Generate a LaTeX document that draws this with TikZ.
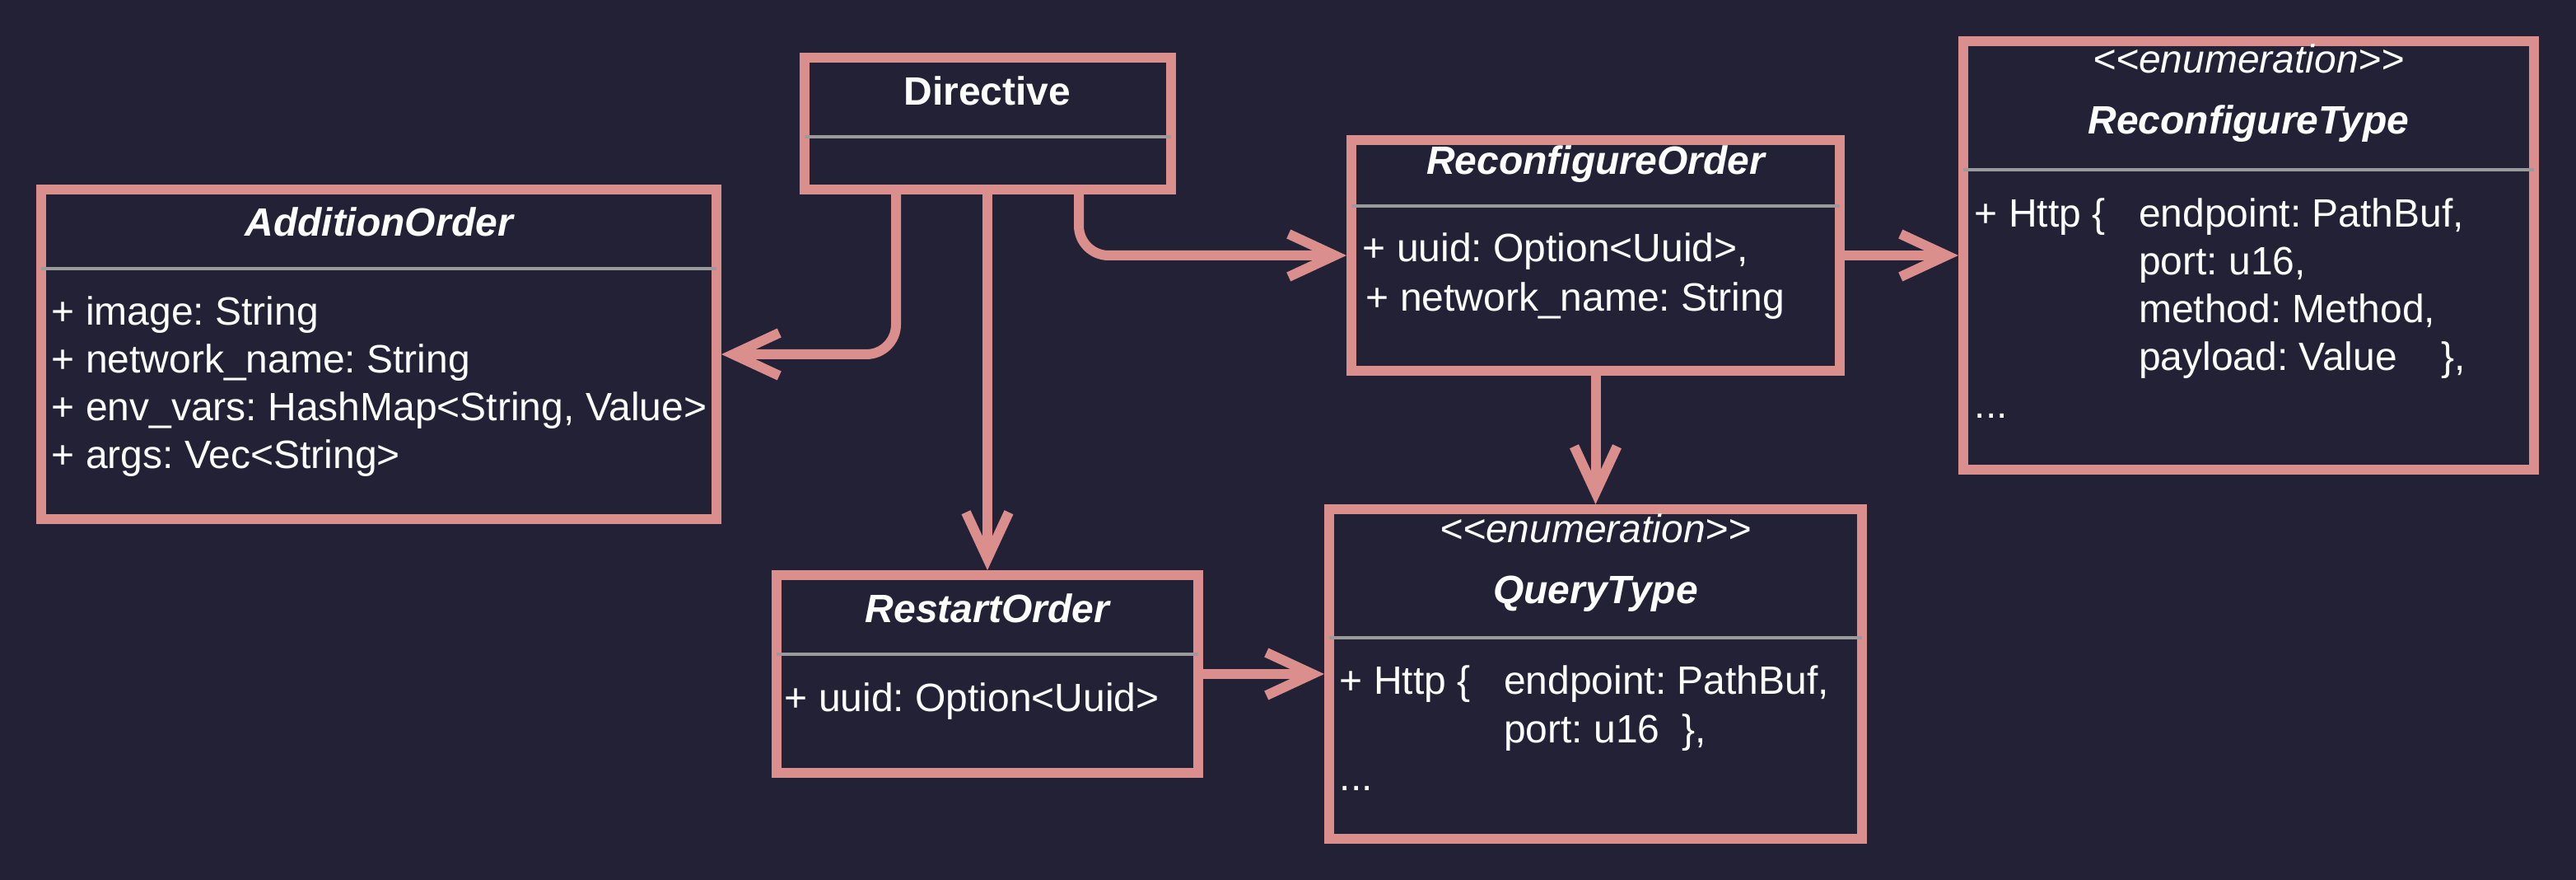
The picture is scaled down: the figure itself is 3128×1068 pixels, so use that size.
\documentclass[tikz,border=0pt]{standalone}
\usepackage{fontspec}
\setmainfont{Liberation Sans}
\usetikzlibrary{arrows.meta}

\definecolor{bgnavy}{HTML}{232136}
\definecolor{rosepink}{HTML}{DA8F8D}
\definecolor{rulegray}{HTML}{9A9A9A}

\tikzset{
  classbox/.style={draw=rosepink, line width=3pt, fill=bgnavy, inner sep=0pt},
  divider/.style={draw=rulegray, line width=1pt},
  conn/.style={draw=rosepink, line width=3pt, rounded corners=9pt, -{Straight Barb[length=14pt,width=13pt]}},
  txt/.style={text=white, inner sep=0pt, font=\fontsize{12}{14.5}\selectfont\frenchspacing},
}

\begin{document}
\begin{tikzpicture}[x=0.25pt,y=0.25pt,yscale=-1,xscale=1]
%set diagram left start at 0, and has height of 1068
\useasboundingbox (0,0) rectangle (3128,1068);
\fill[bgnavy] (0,0) rectangle (3128,1068);

%Shape: Class [Directive]
\node[classbox, minimum width=111.25pt, minimum height=40pt] (directive) at (1199,150) {};
\draw[divider] (976.5,166) -- (1421.5,166);
%Shape: Class [AdditionOrder]
\node[classbox, minimum width=205pt, minimum height=100pt] (addition) at (460,430) {};
\draw[divider] (50,326) -- (870,326);
%Shape: Class [ReconfigureOrder]
\node[classbox, minimum width=148.25pt, minimum height=70pt] (reconforder) at (1937.5,310) {};
\draw[divider] (1641,250) -- (2234,250);
%Shape: Class [ReconfigureType]
\node[classbox, minimum width=173.25pt, minimum height=130pt] (reconftype) at (2730.5,310) {};
\draw[divider] (2384,206) -- (3077,206);
%Shape: Class [RestartOrder]
\node[classbox, minimum width=128pt, minimum height=60pt] (restart) at (1199,818) {};
\draw[divider] (943,794) -- (1455,794);
%Shape: Class [QueryType]
\node[classbox, minimum width=161.75pt, minimum height=100pt] (querytype) at (1937.5,818) {};
\draw[divider] (1614,774) -- (2261,774);

%Connectors
\draw[conn] ([xshift=-27.75pt]directive.south) |- (addition.east);
\draw[conn] (directive.south) -- (restart.north);
\draw[conn] ([xshift=27.75pt]directive.south) |- (reconforder.west);
\draw[conn] (reconforder.east) -- (reconftype.west);
\draw[conn] (reconforder.south) -- (querytype.north);
\draw[conn] (restart.east) -- (querytype.west);

% Text Node (multi-line nodes sit on the baseline of their last line)
\node[txt, anchor=base] (directive title) at (1199,128) {\bfseries Directive};
% Text Node
\node[txt, anchor=base] (addition title) at (460,287) {\bfseries\itshape AdditionOrder};
\node[txt, anchor=base west, align=left] (addition attrs) at (62,569) {+ image: String\\+ network\_name: String\\+ env\_vars: HashMap<String, Value>\\+ args: Vec<String>};
% Text Node
\node[txt, anchor=base] (reconforder title) at (1937.5,212) {\bfseries\itshape ReconfigureOrder};
\node[txt, anchor=base west, align=left, font=\fontsize{12}{15}\selectfont\frenchspacing] (reconforder attrs) at (1654,378) {+ uuid: Option<Uuid>,\\\hspace*{1pt}+ network\_name: String};
% Text Node
\node[txt, anchor=base] (reconftype stereo) at (2730.5,89) {\itshape <\kern0pt<enumeration>\kern0pt>};
\node[txt, anchor=base] (reconftype title) at (2730.5,163) {\bfseries\itshape ReconfigureType};
\node[txt, anchor=base west, align=left] (reconftype attrs) at (2397,508) {\makebox[4.15em][l]{+ Http \{}endpoint: PathBuf,\\\hspace*{4.15em}port: u16,\\\hspace*{4.15em}method: Method,\\\hspace*{4.15em}payload: Value~~~~\},\\...};
% Text Node
\node[txt, anchor=base] (restart title) at (1199,756) {\bfseries\itshape RestartOrder};
\node[txt, anchor=base west, align=left] (restart attrs) at (952,863) {+ uuid: Option<Uuid>};
% Text Node
\node[txt, anchor=base] (querytype stereo) at (1937.5,658) {\itshape <\kern0pt<enumeration>\kern0pt>};
\node[txt, anchor=base] (querytype title) at (1937.5,732) {\bfseries\itshape QueryType};
\node[txt, anchor=base west, align=left] (querytype attrs) at (1626,959) {\makebox[4.15em][l]{+ Http \{}endpoint: PathBuf,\\\hspace*{4.15em}port: u16~~\},\\...};

\end{tikzpicture}
\end{document}
